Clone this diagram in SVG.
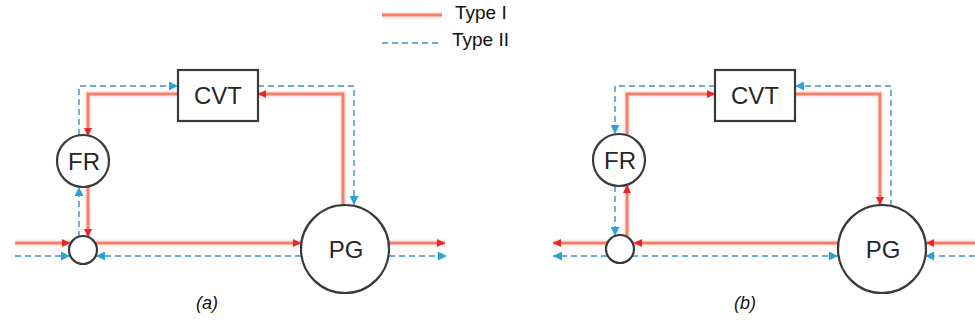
<svg xmlns="http://www.w3.org/2000/svg" width="975" height="331" viewBox="0 0 975 331">
<style>
.t1{fill:none;stroke:#f1806c;stroke-width:3;}
.t1g{fill:none;stroke:#fdebe5;stroke-width:7;}
.t2{fill:none;stroke:#3b90c2;stroke-width:1.4;stroke-dasharray:6 4;}
.node{fill:#ffffff;stroke:#3a3a3a;stroke-width:2.2;}
.lbl{font-family:"Liberation Sans",Arial,sans-serif;font-size:24px;fill:#262626;text-anchor:middle;}
.leg{font-family:"Liberation Sans",Arial,sans-serif;font-size:19px;fill:#111;}
.cap{font-family:"Liberation Sans",Arial,sans-serif;font-size:18px;font-style:italic;fill:#111;text-anchor:middle;}
</style>
<defs>
<marker id="ar" viewBox="0 0 10 10" refX="10" refY="5" markerWidth="8" markerHeight="8" markerUnits="userSpaceOnUse" orient="auto"><path d="M0,0 L10,5 L0,10 z" fill="#e6262c"/></marker>
<marker id="ab" viewBox="0 0 10 10" refX="10" refY="5" markerWidth="10" markerHeight="9" markerUnits="userSpaceOnUse" orient="auto"><path d="M0,0 L10,5 L0,10 z" fill="#2aa2dc"/></marker>
</defs>
<rect width="975" height="331" fill="#ffffff"/>

<g id="legend">
<line x1="382" y1="15" x2="442" y2="15" class="t1g"/>
<line x1="382" y1="15" x2="442" y2="15" class="t1"/>
<text x="455" y="19" class="leg">Type I</text>
<line x1="382" y1="43" x2="442" y2="43" class="t2"/>
<text x="452" y="46" class="leg">Type II</text>
</g>

<g id="connectors">
<g class="t1g">
<path d="M15,243 H70"/><path d="M96,243 H301"/><path d="M389,243 H445"/>
<path d="M343,205 V94 H258"/><path d="M178,94 H88 V136"/><path d="M88,187 V237"/>
<path d="M838,243 H634"/><path d="M607,243 H553"/><path d="M975,243 H926"/>
<path d="M627,237 V185"/><path d="M627,135 V94 H715"/><path d="M795,94 H880 V205"/>
</g>
<!-- panel (a) Type I -->
<path class="t1" d="M15,243 H70" marker-end="url(#ar)"/>
<path class="t1" d="M96,243 H301" marker-end="url(#ar)"/>
<path class="t1" d="M389,243 H445" marker-end="url(#ar)"/>
<path class="t1" d="M343,205 V94 H258" marker-end="url(#ar)"/>
<path class="t1" d="M178,94 H88 V136" marker-end="url(#ar)"/>
<path class="t1" d="M88,187 V237" marker-end="url(#ar)"/>
<!-- panel (a) Type II -->
<path class="t2" d="M15,256 H70" marker-end="url(#ab)"/>
<path class="t2" d="M301,256 H96" marker-end="url(#ab)"/>
<path class="t2" d="M389,256 H447" marker-end="url(#ab)"/>
<path class="t2" d="M79,237 V187" marker-end="url(#ab)"/>
<path class="t2" d="M79,135 V86 H178" marker-end="url(#ab)"/>
<path class="t2" d="M258,86 H354 V205" marker-end="url(#ab)"/>
<!-- panel (b) Type I -->
<path class="t1" d="M838,243 H634" marker-end="url(#ar)"/>
<path class="t1" d="M607,243 H553" marker-end="url(#ar)"/>
<path class="t1" d="M975,243 H926" marker-end="url(#ar)"/>
<path class="t1" d="M627,237 V185" marker-end="url(#ar)"/>
<path class="t1" d="M627,135 V94 H715" marker-end="url(#ar)"/>
<path class="t1" d="M795,94 H880 V205" marker-end="url(#ar)"/>
<!-- panel (b) Type II -->
<path class="t2" d="M607,256 H553" marker-end="url(#ab)"/>
<path class="t2" d="M632,256 H838" marker-end="url(#ab)"/>
<path class="t2" d="M975,256 H925" marker-end="url(#ab)"/>
<path class="t2" d="M715,86 H615 V134" marker-end="url(#ab)"/>
<path class="t2" d="M615,186 V236" marker-end="url(#ab)"/>
<path class="t2" d="M891,206 V86 H795" marker-end="url(#ab)"/>
</g>

<g id="a-cvt"><rect x="178" y="70" width="80" height="51" class="node" stroke-width="2.5"/><text x="218" y="104" class="lbl">CVT</text></g>
<g id="a-fr"><circle cx="83" cy="161" r="26" class="node"/><text x="84" y="170" class="lbl">FR</text></g>
<g id="a-sum"><circle cx="83" cy="250" r="14" class="node"/></g>
<g id="a-pg"><circle cx="345" cy="249" r="44" class="node"/><text x="346" y="258" class="lbl">PG</text></g>

<g id="b-cvt"><rect x="715" y="70" width="80" height="51" class="node" stroke-width="2.5"/><text x="755" y="104" class="lbl">CVT</text></g>
<g id="b-fr"><circle cx="619" cy="160" r="26" class="node"/><text x="620" y="169" class="lbl">FR</text></g>
<g id="b-sum"><circle cx="620" cy="249" r="14" class="node"/></g>
<g id="b-pg"><circle cx="882" cy="249" r="44" class="node"/><text x="883" y="258" class="lbl">PG</text></g>

<text x="207" y="309" class="cap">(a)</text>
<text x="745" y="309" class="cap">(b)</text>
</svg>
